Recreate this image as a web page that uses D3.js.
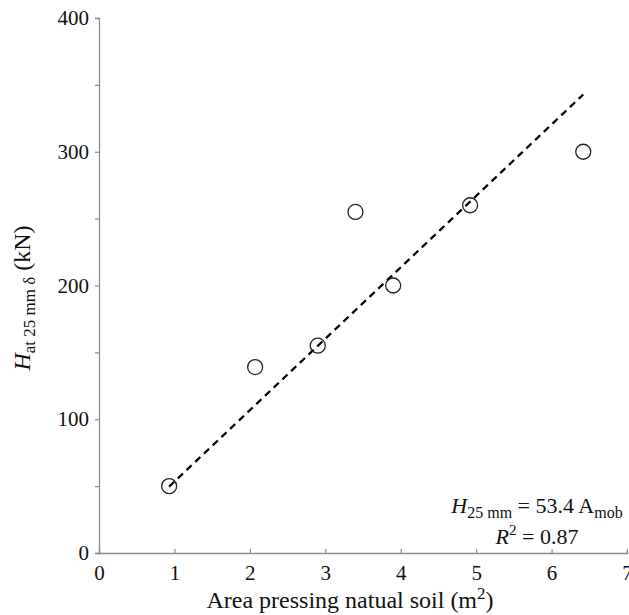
<!DOCTYPE html>
<html>
<head>
<meta charset="utf-8">
<script src="https://cdn.jsdelivr.net/npm/d3@7"></script>
<style>
  html, body { margin: 0; padding: 0; background: #fff; }
</style>
</head>
<body>
<div id="chart"></div>
<script>
// Mobilised area vs. lateral load at 25 mm deflection
const areaValues = [0.93, 2.07, 2.9, 3.4, 3.9, 4.92, 6.42];
const loadValues = [50, 139, 155, 255, 200, 260, 300];
const xTicks = [0, 1, 2, 3, 4, 5, 6, 7];
const yMajorTicks = [0, 100, 200, 300, 400];
const yMinorTicks = [50, 150, 250, 350];
const fitSlope = 53.4;
const fitRange = [0.93, 6.42];

const serif = '"Liberation Serif"';
const width = 629, height = 615;
const margin = { left: 99, right: 2, top: 18, bottom: 62 };

const svg = d3.select("#chart").append("svg")
  .attr("width", width).attr("height", height);

const x = d3.scaleLinear().domain([0, 7]).range([margin.left, width - margin.right]);
const y = d3.scaleLinear().domain([0, 400]).range([height - margin.bottom, margin.top]);

const axisColor = "#8c8c8c";

// x axis: ticks point into the plot
const xAxis = svg.append("g")
  .attr("transform", `translate(0,${y(0)})`)
  .call(d3.axisBottom(x).tickValues(xTicks).tickSize(-4).tickPadding(8).tickFormat(d3.format("d")));
xAxis.select(".domain").attr("stroke", axisColor).attr("stroke-width", 1.3);
xAxis.selectAll(".tick line").attr("stroke", axisColor).attr("stroke-width", 1.2);
xAxis.selectAll(".tick text").attr("font-size", 21).attr("dy", "0.9em")
  .style("font-family", serif).attr("fill", "#111");

// y axis: ticks point outward, minor ticks every 50
const yAxis = svg.append("g")
  .attr("transform", `translate(${x(0)},0)`)
  .call(d3.axisLeft(y).tickValues(yMajorTicks).tickSize(4).tickPadding(6).tickFormat(d3.format("d")));
yAxis.select(".domain").attr("stroke", axisColor).attr("stroke-width", 1.3);
yAxis.selectAll(".tick line").attr("stroke", axisColor).attr("stroke-width", 1.2);
yAxis.selectAll(".tick text").attr("font-size", 21)
  .style("font-family", serif).attr("fill", "#111");

const yMinor = svg.append("g")
  .attr("transform", `translate(${x(0)},0)`)
  .call(d3.axisLeft(y).tickValues(yMinorTicks).tickSize(4).tickFormat(""));
yMinor.select(".domain").remove();
yMinor.selectAll(".tick line").attr("stroke", axisColor).attr("stroke-width", 1.2);

// Linear fit through the origin
const fitLine = d3.line().x(d => x(d)).y(d => y(fitSlope * d));
svg.append("path")
  .datum(fitRange)
  .attr("d", fitLine)
  .attr("fill", "none")
  .attr("stroke", "#000")
  .attr("stroke-width", 2.3)
  .attr("stroke-dasharray", "7,5");

// Measured points
svg.append("g").selectAll("circle")
  .data(areaValues.map((a, i) => [a, loadValues[i]]))
  .join("circle")
  .attr("cx", d => x(d[0]))
  .attr("cy", d => y(d[1]))
  .attr("r", 7.5)
  .attr("fill", "none")
  .attr("stroke", "#222")
  .attr("stroke-width", 1.3);

function label(sel) {
  return sel.style("font-family", serif).attr("fill", "#111");
}

// x axis title
const xt = label(svg.append("text"))
  .attr("x", 350).attr("y", 608)
  .attr("text-anchor", "middle").attr("font-size", 24);
xt.append("tspan").text("Area pressing natual soil (m");
xt.append("tspan").attr("font-size", 17).attr("dy", -9).text("2");
xt.append("tspan").attr("dy", 9).text(")");

// y axis title
const yt = label(svg.append("text"))
  .attr("transform", "translate(30,298) rotate(-90)")
  .attr("text-anchor", "middle").attr("font-size", 24);
yt.append("tspan").attr("font-style", "italic").text("H");
yt.append("tspan").attr("font-size", 17).attr("dy", 5).text("at 25 mm δ");
yt.append("tspan").attr("dy", -5).text(" (kN)");

// Fit equation
const eq = label(svg.append("text"))
  .attr("x", 537).attr("y", 513)
  .attr("text-anchor", "middle").attr("font-size", 22);
eq.append("tspan").attr("font-style", "italic").text("H");
eq.append("tspan").attr("font-size", 16).attr("dy", 5).text("25 mm");
eq.append("tspan").attr("dy", -5).text(" = 53.4 A");
eq.append("tspan").attr("font-size", 16).attr("dy", 5).text("mob");

const r2 = label(svg.append("text"))
  .attr("x", 537).attr("y", 544)
  .attr("text-anchor", "middle").attr("font-size", 22);
r2.append("tspan").attr("font-style", "italic").text("R");
r2.append("tspan").attr("font-size", 15).attr("dy", -9).text("2");
r2.append("tspan").attr("dy", 9).text(" = 0.87");
</script>
</body>
</html>
